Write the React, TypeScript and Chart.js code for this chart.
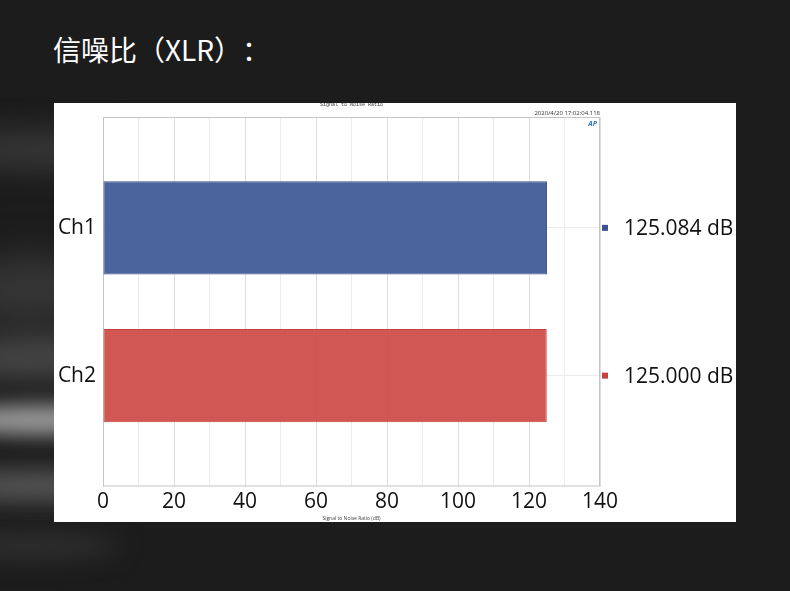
import { useEffect, useRef } from "react";
import { Chart, registerables } from "chart.js";

Chart.register(...registerables);

const channels = ["Ch1", "Ch2"];
const snrValues = [125.084, 125.0];
const valueLabels = ["125.084 dB", "125.000 dB"];
const barColors = ["rgba(66, 92, 152, 0.95)", "rgba(206, 74, 70, 0.93)"];
const barBorders = ["#3c5290", "#c4413e"];
const xMin = 0;
const xMax = 140;

const tickFont = { family: "'Open Sans', 'Noto Sans', sans-serif", size: 21 };

const panelText = {
  id: "panelText",
  beforeDatasetsDraw(chart: Chart) {
    const { ctx, chartArea } = chart;
    ctx.save();
    ctx.strokeStyle = "#c4c4c4";
    ctx.lineWidth = 1;
    ctx.strokeRect(
      chartArea.left + 0.5,
      chartArea.top + 0.5,
      chartArea.right - chartArea.left - 1,
      chartArea.bottom - chartArea.top - 1
    );
    ctx.restore();
  },
  afterDraw(chart: Chart) {
    const { ctx, chartArea } = chart;
    const yScale = chart.scales.y;
    const midX = (chartArea.left + chartArea.right) / 2;
    ctx.save();

    // header texts
    ctx.fillStyle = "#333";
    ctx.font = "5px 'Liberation Mono', monospace";
    ctx.textAlign = "center";
    ctx.textBaseline = "middle";
    ctx.fillText("Signal to Noise Ratio", midX, 2);

    ctx.font = "6px 'Open Sans', sans-serif";
    ctx.textAlign = "right";
    ctx.fillText("2020/4/20 17:02:04.118", chartArea.right, 10);

    ctx.fillStyle = "#2f74d0";
    ctx.font = "italic bold 7px 'Open Sans', sans-serif";
    ctx.fillText("AP", chartArea.right - 3, chartArea.top + 7);

    // axis title
    ctx.fillStyle = "#444";
    ctx.font = "5px 'Open Sans', sans-serif";
    ctx.textAlign = "center";
    ctx.fillText("Signal to Noise Ratio (dB)", midX, chart.height - 3);

    // right side legend values
    channels.forEach((_, i) => {
      const y = yScale.getPixelForValue(i);
      ctx.fillStyle = barBorders[i];
      ctx.fillRect(chartArea.right + 2, y - 3, 6, 6);
      ctx.fillStyle = "#111";
      ctx.font = `${tickFont.size}px ${tickFont.family}`;
      ctx.textAlign = "left";
      ctx.textBaseline = "middle";
      ctx.fillText(valueLabels[i], chartArea.right + 24, y + 1);
    });
    ctx.restore();
  },
};

function SnrChart() {
  const canvasRef = useRef<HTMLCanvasElement | null>(null);
  const chartRef = useRef<Chart | null>(null);

  useEffect(() => {
    const canvas = canvasRef.current;
    if (!canvas) {
      return;
    }
    chartRef.current?.destroy();

    chartRef.current = new Chart(canvas, {
      type: "bar",
      data: {
        datasets: [
          {
            data: channels.map((_, i) => ({ x: snrValues[i], y: i })),
            backgroundColor: barColors,
            borderColor: barBorders,
            borderWidth: 1,
            borderSkipped: false,
            barPercentage: 0.63,
            categoryPercentage: 1,
          },
        ],
      },
      options: {
        indexAxis: "y",
        animation: false,
        responsive: false,
        devicePixelRatio: 1,
        layout: { padding: { top: 14, right: 136, left: 0, bottom: 0 } },
        plugins: {
          legend: { display: false },
          tooltip: { enabled: false },
        },
        scales: {
          x: {
            type: "linear",
            min: xMin,
            max: xMax,
            border: { display: false },
            grid: {
              drawTicks: false,
              color: (c) =>
                c.tick && c.tick.value % 20 === 0 ? "#dedede" : "#ececec",
            },
            ticks: {
              stepSize: 10,
              padding: 3,
              color: "#111",
              font: tickFont,
              maxRotation: 0,
              autoSkip: false,
              callback: (v) => (Number(v) % 20 === 0 ? String(v) : ""),
            },
            afterFit: (scale) => {
              scale.height = 35.5;
            },
          },
          y: {
            type: "linear",
            min: -0.75,
            max: channels.length - 0.25,
            reverse: true,
            offset: false,
            border: { display: false },
            grid: { drawTicks: false, offset: false, color: "#ececec" },
            afterBuildTicks: (scale) => {
              scale.ticks = channels.map((_, i) => ({ value: i }));
            },
            ticks: {
              padding: 7,
              color: "#111",
              font: tickFont,
              callback: (v) => channels[Number(v)] ?? "",
            },
            afterFit: (scale) => {
              scale.width = 49;
              scale.paddingTop = 0;
              scale.paddingBottom = 0;
            },
          },
        },
      },
      plugins: [panelText],
    });

    return () => {
      chartRef.current?.destroy();
    };
  }, []);

  return <canvas ref={canvasRef} width={682} height={419} />;
}

const streaks = [
  { top: 130, left: -60, w: 220, h: 40, color: "#363636", blur: 14 },
  { top: 255, left: -40, w: 140, h: 70, color: "#353535", blur: 18 },
  { top: 335, left: -60, w: 200, h: 45, color: "#454545", blur: 14 },
  { top: 405, left: -60, w: 200, h: 30, color: "#9a9a9a", blur: 10 },
  { top: 470, left: -60, w: 190, h: 32, color: "#565656", blur: 12 },
  { top: 535, left: -60, w: 180, h: 22, color: "#333333", blur: 12 },
];

export default function App() {
  return (
    <div
      style={{
        position: "fixed",
        left: 0,
        top: 0,
        width: 790,
        height: 591,
        background: "#1c1c1c",
        overflow: "hidden",
      }}
    >
      {streaks.map((s, i) => (
        <div
          key={i}
          style={{
            position: "absolute",
            top: s.top,
            left: s.left,
            width: s.w,
            height: s.h,
            borderRadius: "50%",
            background: s.color,
            filter: `blur(${s.blur}px)`,
          }}
        />
      ))}
      <div
        style={
          {
            position: "absolute",
            left: 53,
            top: 35,
            color: "#fff",
            fontFamily: "'Noto Sans CJK SC', sans-serif",
            fontSize: 28,
            fontWeight: 400,
            lineHeight: "28px",
            whiteSpace: "nowrap",
            textSpacingTrim: "space-all",
          } as React.CSSProperties
        }
      >
        信噪比（XLR）：
      </div>
      <div
        style={{
          position: "absolute",
          left: 54,
          top: 103,
          width: 682,
          height: 419,
          background: "#fff",
        }}
      >
        <SnrChart />
      </div>
    </div>
  );
}
